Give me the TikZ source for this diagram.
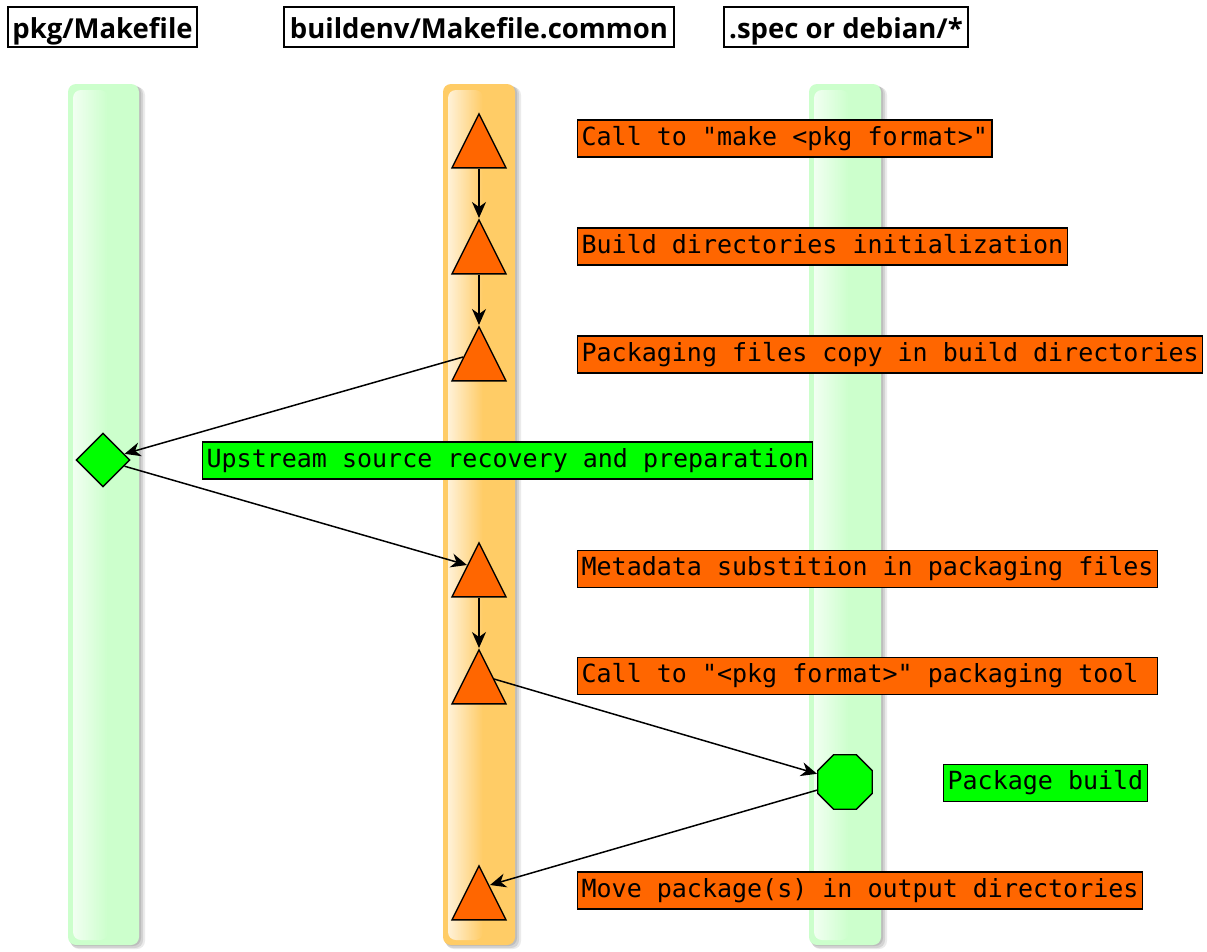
\documentclass[tikz,border=0pt]{standalone}
\usepackage{fontspec}
\usetikzlibrary{shapes.geometric,arrows.meta,calc}
\newfontfamily\hdrfont{Open Sans}
\newfontfamily\monofont{DejaVu Sans Mono}
\definecolor{lanegreen}{RGB}{204,255,204}
\definecolor{laneorange}{RGB}{255,204,102}
\definecolor{actorange}{RGB}{255,102,0}
\definecolor{actgreen}{RGB}{0,255,0}
\tikzset{
  hdr/.style={draw=black, line width=1.5pt, fill=white, font=\hdrfont\bfseries\fontsize{27.5}{32}\selectfont, text height=30pt, text depth=7pt, inner xsep=1pt, inner ysep=1.5pt},
  tri/.style={isosceles triangle, isosceles triangle stretches, shape border rotate=90, minimum width=54pt, minimum height=54pt, inner sep=0pt, draw=black, line width=1.4pt, fill=actorange, anchor=apex},
  dia/.style={diamond, minimum width=54pt, minimum height=54pt, inner sep=0pt, draw=black, line width=1.4pt, fill=actgreen},
  oct/.style={regular polygon, regular polygon sides=8, minimum size=59pt, inner sep=0pt, draw=black, line width=1.4pt, fill=actgreen},
  lbl/.style={draw=black, line width=1.2pt, font=\monofont\fontsize{25}{30}\selectfont, text height=19pt, text depth=6pt, inner xsep=4pt, inner ysep=6pt, anchor=west},
  olbl/.style={lbl, fill=actorange},
  glbl/.style={lbl, fill=actgreen},
  flow/.style={draw=black, line width=1.5pt, -{Stealth[length=16pt,width=14pt,inset=5pt]}},
}
\newcommand\mylane[3]{%
  \fill[black, opacity=0.08, rounded corners=8pt] (#1+3,87) rectangle (#2+6,949);
  \fill[black, opacity=0.10, rounded corners=8pt] (#1+2,86) rectangle (#2+4,948);
  \fill[black, opacity=0.10, rounded corners=8pt] (#1+1,85) rectangle (#2+2,946);
  \fill[#3, rounded corners=8pt] (#1,84) rectangle (#2,945);
  \shade[left color=white, right color=#3, opacity=0.75, rounded corners=8pt] (#1+5,90) rectangle (#1+40,940);
}
\begin{document}
\begin{tikzpicture}[x=1pt,y=-1pt]
\useasboundingbox[fill=white] (0,0) rectangle (1207,951);
% lanes
\mylane{68}{139}{lanegreen}
\mylane{443}{515}{laneorange}
\mylane{809}{881}{lanegreen}
% headers
\node[hdr, minimum width=189pt] (h1) at (102.5,27) {pkg/Makefile};
\node[hdr, minimum width=390pt] (h2) at (479,27) {buildenv/Makefile.common};
\node[hdr, minimum width=244pt] (h3) at (846,27) {.spec or debian/*};
% activity nodes
\node[tri] (t1) at (479,112) {};
\node[tri] (t2) at (479,218) {};
\node[tri] (t3) at (479,325) {};
\node[dia] (d) at (103,460) {};
\node[tri] (t4) at (479,541) {};
\node[tri] (t5) at (479,648) {};
\node[oct] (o) at (845,782) {};
\node[tri] (t6) at (479,864) {};
% labels
\node[olbl] (l1) at (577,138.5) {Call to "make <pkg format>"};
\node[olbl] (l2) at (577,246.5) {Build directories initialization};
\node[olbl] (l3) at (577,354.5) {Packaging files copy in build directories};
\node[glbl] (l4) at (202,460.5) {Upstream source recovery and preparation};
\node[olbl] (l5) at (577,569) {Metadata substition in packaging files};
\node[olbl] (l6) at (577,676) {Call to "<pkg format>" packaging tool\hphantom{x}};
\node[glbl] (l7) at (943,783) {Package build};
\node[olbl] (l8) at (577,890.5) {Move package(s) in output directories};
% connectors
\coordinate (t3s) at ($(t3.apex)+(-16,32)$);
\coordinate (t4s) at ($(t4.apex)+(-12,24)$);
\coordinate (t5s) at ($(t5.apex)+(15,31)$);
\coordinate (t6s) at ($(t6.apex)+(11,21)$);
\draw[flow] (t1.south) -- (t2.apex);
\draw[flow] (t2.south) -- (t3.apex);
\draw[flow] (t3s) -- (d);
\draw[flow] (d) -- (t4s);
\draw[flow] (t4.south) -- (t5.apex);
\draw[flow] (t5s) -- (o);
\draw[flow] (o) -- (t6s);
\end{tikzpicture}
\end{document}
